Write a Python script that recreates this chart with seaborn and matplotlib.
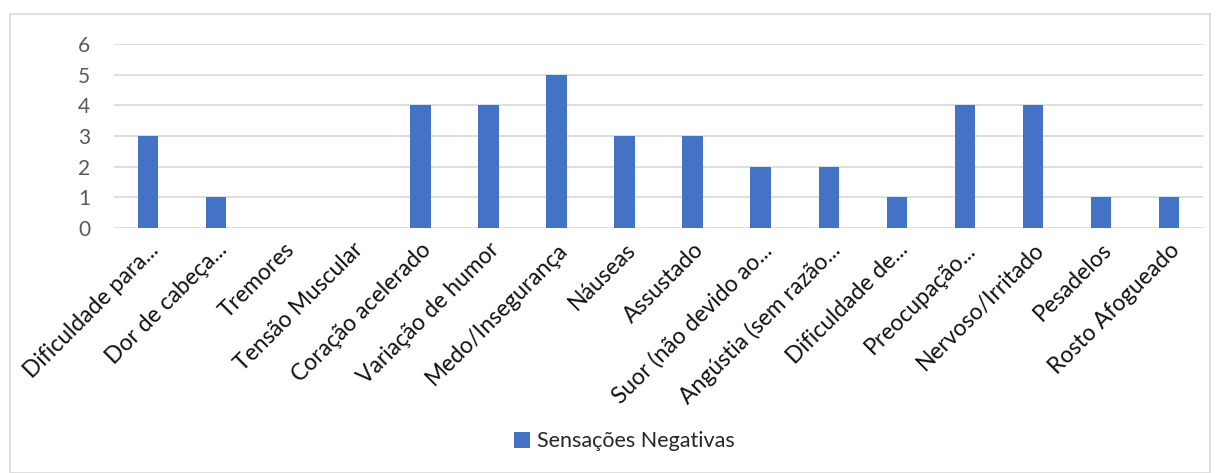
import matplotlib
matplotlib.use("Agg")
import matplotlib.pyplot as plt
from matplotlib.patches import Rectangle
import seaborn as sns
import pandas as pd

# Chart data
categorias = ["Dificuldade para...", "Dor de cabeça...", "Tremores", "Tensão Muscular",
              "Coração acelerado", "Variação de humor", "Medo/Insegurança", "Náuseas",
              "Assustado", "Suor (não devido ao...", "Angústia (sem razão...",
              "Dificuldade de...", "Preocupação...", "Nervoso/Irritado", "Pesadelos",
              "Rosto Afogueado"]
valores = [3, 1, 0, 0, 4, 4, 5, 3, 3, 2, 2, 1, 4, 4, 1, 1]
serie = "Sensações Negativas"
y_ticks = [0, 1, 2, 3, 4, 5, 6]

df = pd.DataFrame({"sintoma": categorias, "valor": valores, "serie": serie})

sns.set_style("white")
plt.rcParams["font.family"] = ["Lato", "DejaVu Sans"]

fig = plt.figure(figsize=(12.19, 4.73), dpi=100)
ax = fig.add_axes([0.0935, 0.518, 0.8935, 0.389])

sns.barplot(data=df, x="sintoma", y="valor", hue="serie", palette=["#4472C4"],
            width=0.3, ax=ax, saturation=1, linewidth=0)

ax.set_ylim(0, 6)
ax.set_xlim(-0.5, len(categorias) - 0.5)
ax.set_yticks(y_ticks)
ax.set_yticklabels([str(t) for t in y_ticks], fontsize=15, color="#595959")
ax.yaxis.grid(True, color="#d9d9d9", linewidth=1.2)
ax.set_axisbelow(True)
ax.tick_params(axis="both", length=0)
ax.tick_params(axis="y", pad=17)
ax.set_xlabel("")
ax.set_ylabel("")
for s in ax.spines.values():
    s.set_visible(False)

ax.set_xticks(range(len(categorias)))
ax.set_xticklabels(categorias, rotation=45, ha="right", rotation_mode="anchor",
                   fontsize=16.5, color="#111111")
ax.tick_params(axis="x", pad=8)

leg = ax.legend(loc="center", bbox_to_anchor=(0.512, 0.067), bbox_transform=fig.transFigure,
                frameon=False, fontsize=15.5, handlelength=0.75, handleheight=0.75,
                handletextpad=0.3)

# outer chart border
fig.patches.append(Rectangle((10 / 1219, 0.0), 1200 / 1219, 1 - 14 / 473,
                             transform=fig.transFigure, fill=False,
                             edgecolor="#d9d9d9", linewidth=1.2))

fig.savefig("out.png", dpi=100, facecolor="white")
